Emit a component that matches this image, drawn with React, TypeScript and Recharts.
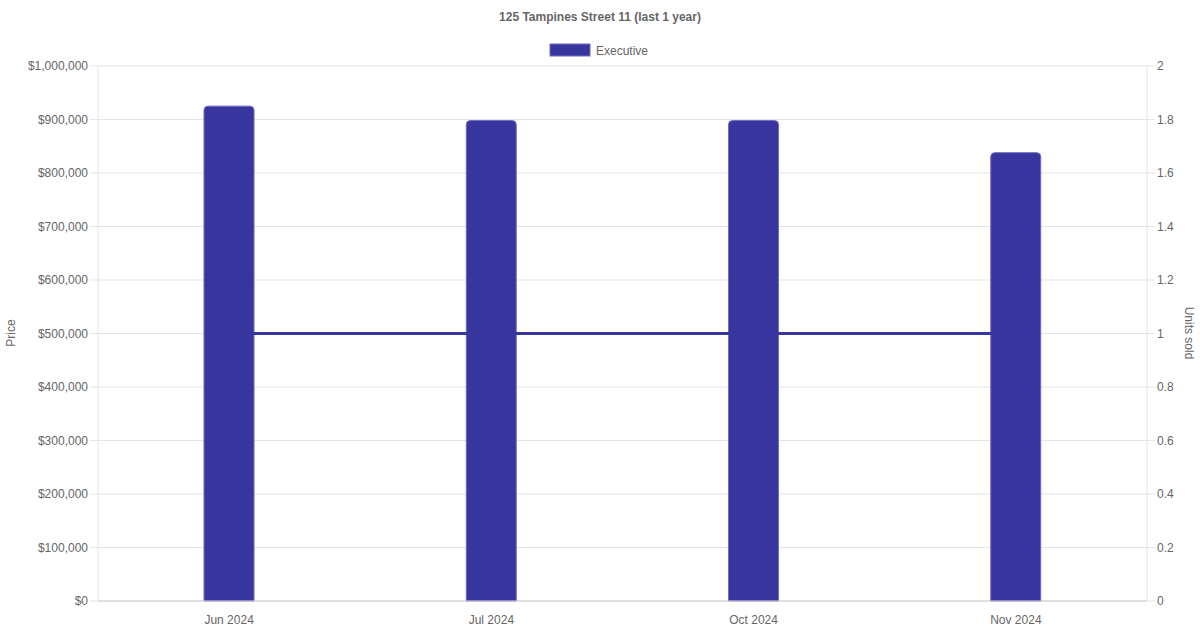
import React from 'react';
import { ComposedChart, Bar, Line, XAxis, YAxis, CartesianGrid } from 'recharts';

const months = ['Jun 2024', 'Jul 2024', 'Oct 2024', 'Nov 2024'];
const prices = [925000, 898000, 898000, 838000];
const unitsSold = [1, 1, 1, 1];
const priceTicks = [0, 100000, 200000, 300000, 400000, 500000, 600000, 700000, 800000, 900000, 1000000];
const unitTicks = [0, 0.2, 0.4, 0.6, 0.8, 1, 1.2, 1.4, 1.6, 1.8, 2];

const BAR_COLOR = '#38359f';
const TEXT_COLOR = '#666';
const GRID_COLOR = '#e5e5e5';

const data = months.map((m, i) => ({ month: m, price: prices[i], units: unitsSold[i] }));

const formatPrice = (v: number) => '$' + v.toLocaleString('en-US');

export default function App() {
    const tickStyle = { fill: TEXT_COLOR, fontSize: 12 };

    return (
        <div
            style={{
                position: 'absolute',
                left: 0,
                top: 0,
                width: 1200,
                height: 630,
                background: '#fff',
                fontFamily: '"Liberation Sans", Arial, sans-serif',
            }}
        >
            <ComposedChart
                width={1200}
                height={630}
                data={data}
                margin={{ top: 66, right: 0, bottom: 0, left: 0 }}
            >
                <CartesianGrid yAxisId="price" vertical={false} stroke={GRID_COLOR} />
                <XAxis
                    dataKey="month"
                    height={29}
                    tick={tickStyle}
                    tickLine={false}
                    tickSize={0}
                    tickMargin={14}
                    axisLine={{ stroke: '#cfcfcf' }}
                />
                <YAxis
                    yAxisId="price"
                    orientation="left"
                    width={98}
                    domain={[0, 1000000]}
                    ticks={priceTicks}
                    tickFormatter={formatPrice}
                    tick={tickStyle}
                    tickSize={8}
                    tickLine={{ stroke: GRID_COLOR }}
                    axisLine={{ stroke: GRID_COLOR }}
                    interval={0}
                />
                <YAxis
                    yAxisId="units"
                    orientation="right"
                    width={53}
                    domain={[0, 2]}
                    ticks={unitTicks}
                    tick={tickStyle}
                    tickSize={8}
                    tickLine={{ stroke: GRID_COLOR }}
                    axisLine={{ stroke: GRID_COLOR }}
                    interval={0}
                />
                <Line
                    yAxisId="units"
                    dataKey="units"
                    stroke={BAR_COLOR}
                    strokeWidth={3}
                    dot={false}
                    activeDot={false}
                    type="linear"
                    isAnimationActive={false}
                />
                <Bar
                    yAxisId="price"
                    dataKey="price"
                    fill={BAR_COLOR}
                    stroke="#6f6cc4"
                    strokeWidth={1}
                    barSize={50}
                    radius={[4, 4, 0, 0]}
                    isAnimationActive={false}
                />
            </ComposedChart>

            {/* title, legend and axis titles */}
            <svg
                width={1200}
                height={630}
                style={{ position: 'absolute', left: 0, top: 0, pointerEvents: 'none' }}
            >
                <text x={600} y={21} textAnchor="middle" fontSize={12} fontWeight="bold" fill={TEXT_COLOR}>
                    125 Tampines Street 11 (last 1 year)
                </text>
                <rect x={550} y={44} width={40} height={12} fill={BAR_COLOR} stroke="#6f6cc4" strokeWidth={1} />
                <text x={596} y={55} fontSize={12} fill={TEXT_COLOR}>
                    Executive
                </text>
                <text
                    x={15}
                    y={333}
                    textAnchor="middle"
                    fontSize={12}
                    fill={TEXT_COLOR}
                    transform="rotate(-90 15 333)"
                >
                    Price
                </text>
                <text
                    x={1185}
                    y={333}
                    textAnchor="middle"
                    fontSize={12}
                    fill={TEXT_COLOR}
                    transform="rotate(90 1185 333)"
                >
                    Units sold
                </text>
            </svg>
        </div>
    );
}
